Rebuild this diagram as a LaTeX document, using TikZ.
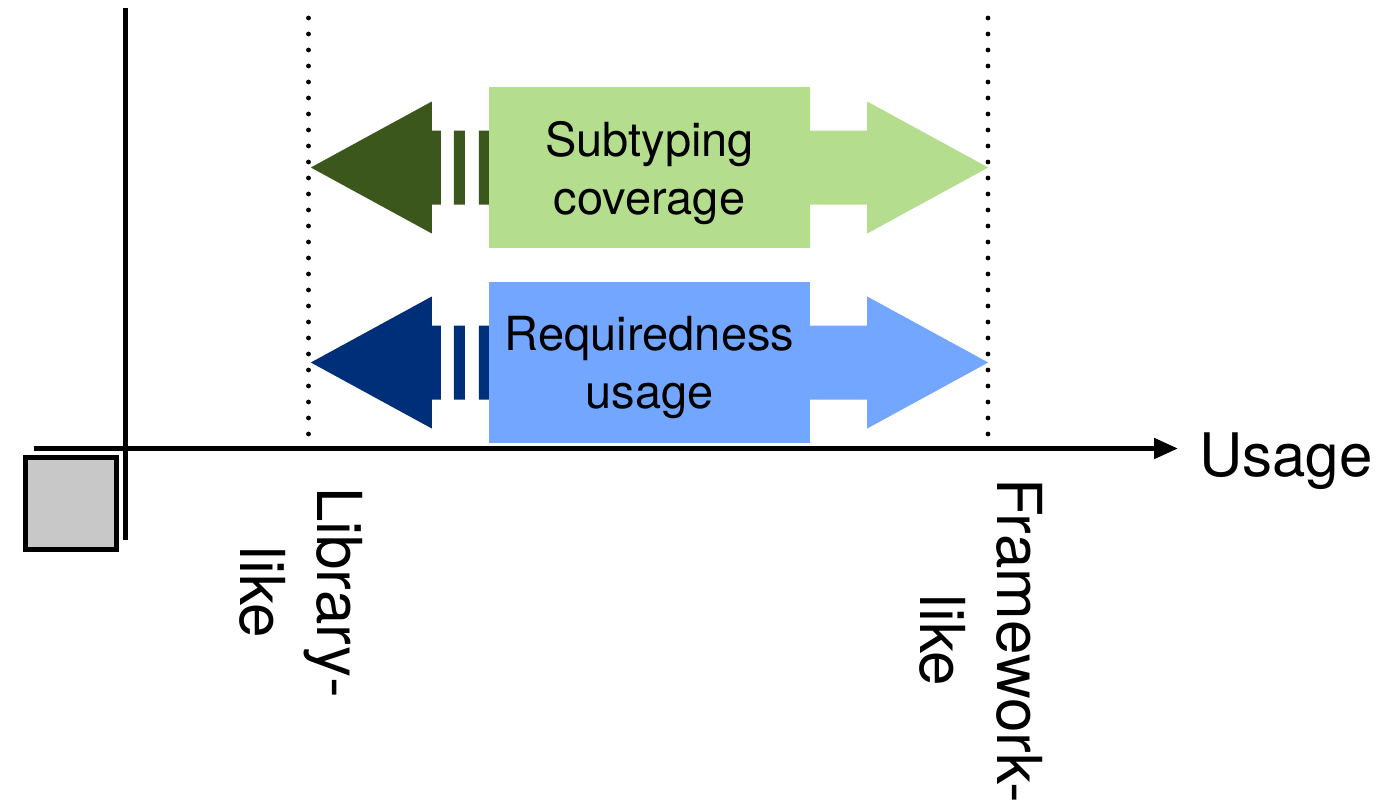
\documentclass[tikz,border=0pt]{standalone}
\usepackage{fontspec}
\setmainfont{TeX Gyre Heros}
\usetikzlibrary{arrows.meta,positioning}

\definecolor{subdark}{HTML}{3B571B}
\definecolor{sublight}{HTML}{B4DE8E}
\definecolor{reqdark}{HTML}{002F7A}
\definecolor{reqlight}{HTML}{73A6FF}
\definecolor{cornergray}{HTML}{C8C8C8}

\begin{document}
\begin{tikzpicture}[x=1pt,y=-1pt,
  axis/.style={line width=5pt},
  bound/.style={line width=4.8pt,line cap=round,dash pattern=on 0pt off 16pt},
  band/.style={rectangle,minimum width=321pt,minimum height=161pt,inner sep=0pt,
    align=center,text depth=0pt,font=\fontsize{47pt}{58pt}\selectfont},
  endlabel/.style={rotate=-90,anchor=north west,inner sep=0pt,align=center,
    font=\fontsize{62pt}{77pt}\selectfont}]
\useasboundingbox (0,0) rectangle (1381,811);

% axes
\coordinate (ytop) at (125.5,8);
\coordinate (ybot) at (125.5,540);
\coordinate (xstart) at (34,448.5);
\coordinate (xend) at (1178,448.5);
\draw[axis] (ytop) -- (ybot);
\draw[axis,-{Triangle[length=24pt,width=20pt]}] (xstart) -- (xend);
\node[draw,fill=cornergray,line width=5pt,minimum width=91pt,minimum height=92pt,inner sep=0pt] (corner) at (71,503.5) {};
\node[anchor=base west,inner sep=0pt,font=\fontsize{60pt}{70pt}\selectfont] (usage) at (1199,476) {Usage};

% library / framework bounds
\coordinate (libtop) at (308.5,18);
\coordinate (libbot) at (308.5,450);
\coordinate (fwtop) at (988,18);
\coordinate (fwbot) at (988,450);
\draw[bound] (libtop) -- (libbot);
\draw[bound] (fwtop) -- (fwbot);
\node[endlabel] (lib) at (363,487) {Library-\\like};
\node[endlabel] (fw) at (1043,478) {Framework-\\like};

% Subtyping
\node[band,fill=sublight] (sub) at (649.5,167.5) {Subtyping\\coverage};
\fill[subdark,shift={(sub.west)}] (-48,-37) -- (-57,-37) -- (-57,-66) -- (-178,0) -- (-57,66) -- (-57,37) -- (-48,37) -- cycle
  (-35,-37) rectangle (-24,37) (-10,-37) rectangle (0,37);
\fill[sublight,shift={(sub.east)}] (0,-37) -- (57,-37) -- (57,-66) -- (178,0) -- (57,66) -- (57,37) -- (0,37) -- cycle;

% Requiredness
\node[band,fill=reqlight] (req) at (649.5,362.5) {Requiredness\\usage};
\fill[reqdark,shift={(req.west)}] (-48,-37) -- (-57,-37) -- (-57,-66) -- (-178,0) -- (-57,66) -- (-57,37) -- (-48,37) -- cycle
  (-35,-37) rectangle (-24,37) (-10,-37) rectangle (0,37);
\fill[reqlight,shift={(req.east)}] (0,-37) -- (57,-37) -- (57,-66) -- (178,0) -- (57,66) -- (57,37) -- (0,37) -- cycle;
\end{tikzpicture}
\end{document}
